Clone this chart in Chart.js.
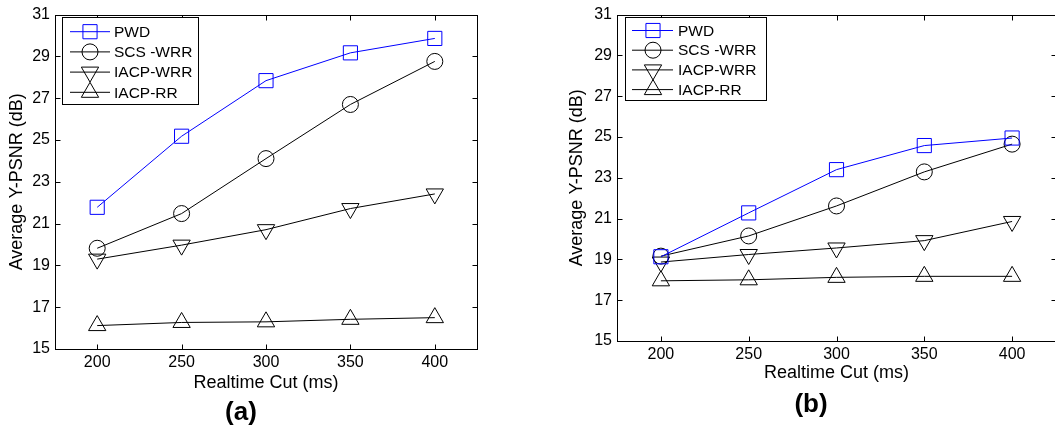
<!DOCTYPE html>
<html>
<head>
<meta charset="utf-8">
<script src="https://cdn.jsdelivr.net/npm/chart.js"></script>
<style>
  html, body { margin: 0; padding: 0; background: #fff; overflow: hidden; }
  body { width: 1055px; height: 431px; position: relative; }
  canvas { position: absolute; top: 0; }
</style>
</head>
<body>
<canvas id="chartA" width="527" height="431" style="left:0px"></canvas>
<canvas id="chartB" width="545" height="431" style="left:527px"></canvas>
<script>
// x categories (realtime cut, ms) and tick labels
const cuts = [200, 250, 300, 350, 400];
const yTicks = [15, 17, 19, 21, 23, 25, 27, 29, 31];
const seriesNames = ['PWD', 'SCS -WRR', 'IACP-WRR', 'IACP-RR'];

// (a)
const pwdA     = [21.78, 25.18, 27.84, 29.17, 29.86];
const scsA     = [19.82, 21.48, 24.11, 26.70, 28.76];
const iacpWrrA = [19.30, 19.97, 20.71, 21.72, 22.42];
const iacpRrA  = [16.12, 16.27, 16.30, 16.42, 16.50];

// (b)
const pwdB     = [19.13, 21.28, 23.40, 24.58, 24.95];
const scsB     = [19.16, 20.15, 21.62, 23.29, 24.65];
const iacpWrrB = [18.87, 19.24, 19.56, 19.92, 20.86];
const iacpRrB  = [17.95, 18.00, 18.12, 18.17, 18.17];

const FONT = '"Liberation Sans", Arial, Helvetica, sans-serif';

// marker look per series
const styles = [
  { color: 'rgb(0,0,255)', pointStyle: 'rect', radius: 10, rotation: 0 },
  { color: '#000', pointStyle: 'circle', radius: 8, rotation: 0 },
  { color: '#000', pointStyle: 'triangle', radius: 10, rotation: 180 },
  { color: '#000', pointStyle: 'triangle', radius: 10, rotation: 0 }
];

function makeDatasets(list) {
  return list.map((vals, i) => ({
    label: seriesNames[i],
    data: cuts.map((c, j) => ({ x: c, y: vals[j] })),
    borderColor: styles[i].color,
    borderWidth: 1,
    pointStyle: styles[i].pointStyle,
    pointRadius: styles[i].radius,
    pointRotation: styles[i].rotation,
    pointBorderColor: styles[i].color,
    pointBackgroundColor: 'rgba(0,0,0,0)',
    pointBorderWidth: 1,
    tension: 0
  }));
}

// frame, inward ticks, legend box and panel label
const framePlugin = {
  id: 'frame',
  afterDraw(chart, args, opts) {
    const ctx = chart.ctx;
    const a = chart.chartArea;
    const xs = chart.scales.x, ys = chart.scales.y;
    ctx.save();
    ctx.strokeStyle = '#000';
    ctx.lineWidth = 1;
    const L = Math.round(a.left) + 0.5, R = Math.round(a.right) + 0.5;
    const T = Math.round(a.top) + 0.5, B = Math.round(a.bottom) + 0.5;
    ctx.strokeRect(L, T, R - L, B - T);
    const tl = 5;
    ctx.beginPath();
    xs.ticks.forEach(t => {
      const px = Math.round(xs.getPixelForValue(t.value)) + 0.5;
      ctx.moveTo(px, B); ctx.lineTo(px, B - tl);
      ctx.moveTo(px, T); ctx.lineTo(px, T + tl);
    });
    ys.ticks.forEach(t => {
      const py = Math.round(ys.getPixelForValue(t.value)) + 0.5;
      ctx.moveTo(L, py); ctx.lineTo(L + tl, py);
      ctx.moveTo(R, py); ctx.lineTo(R - tl, py);
    });
    ctx.stroke();

    // legend
    const lg = opts.legend;
    ctx.fillStyle = '#fff';
    ctx.fillRect(lg.x, lg.y, lg.w, lg.h);
    ctx.strokeStyle = '#000';
    ctx.strokeRect(lg.x + 0.5, lg.y + 0.5, lg.w, lg.h);
    ctx.font = '15.5px ' + FONT;
    ctx.textBaseline = 'middle';
    chart.data.datasets.forEach((ds, i) => {
      const y = lg.y + lg.row0 + i * lg.gap;
      ctx.strokeStyle = ds.borderColor;
      ctx.lineWidth = 1;
      ctx.beginPath();
      ctx.moveTo(lg.x + lg.line0, y);
      ctx.lineTo(lg.x + lg.line1, y);
      ctx.stroke();
      ctx.fillStyle = 'rgba(0,0,0,0)';
      ctx.strokeStyle = ds.pointBorderColor;
      Chart.helpers.drawPoint(ctx, {
        pointStyle: ds.pointStyle, rotation: ds.pointRotation,
        radius: ds.pointRadius, borderWidth: 1
      }, lg.x + lg.mark, y);
      ctx.fillStyle = '#000';
      ctx.textAlign = 'left';
      ctx.fillText(ds.label, lg.x + lg.text, y + 1);
    });

    // panel label
    ctx.font = 'bold 26px ' + FONT;
    ctx.fillStyle = '#000';
    ctx.textAlign = 'center';
    ctx.fillText(opts.panel.text, opts.panel.x, opts.panel.y);
    ctx.restore();
  }
};

function makeChart(id, list, cfg) {
  return new Chart(document.getElementById(id), {
    type: 'line',
    data: { datasets: makeDatasets(list) },
    options: {
      responsive: false,
      animation: false,
      devicePixelRatio: 1,
      layout: { padding: cfg.padding },
      plugins: {
        legend: { display: false },
        tooltip: { enabled: false },
        frame: { legend: cfg.legend, panel: cfg.panel }
      },
      scales: {
        x: {
          type: 'linear',
          min: 175, max: 425,
          grid: { display: false, drawTicks: false },
          border: { display: false },
          afterBuildTicks: s => { s.ticks = cuts.map(v => ({ value: v })); },
          afterFit: s => { s.height = cfg.xHeight; },
          ticks: { color: '#000', padding: 4, font: { family: FONT, size: 16 } },
          title: {
            display: true, text: 'Realtime Cut (ms)', color: '#000',
            padding: { top: 0, bottom: cfg.xTitlePad },
            font: { family: FONT, size: 18 }
          }
        },
        y: {
          min: 15, max: 31,
          grid: { display: false, drawTicks: false },
          border: { display: false },
          afterBuildTicks: s => { s.ticks = yTicks.map(v => ({ value: v })); },
          afterFit: s => { s.width = cfg.yWidth; },
          ticks: { color: '#000', padding: 5, font: { family: FONT, size: 16 } },
          title: {
            display: true, text: 'Average Y-PSNR (dB)', color: '#000',
            padding: { top: cfg.yTitlePad, bottom: 0 },
            font: { family: FONT, size: 18 }
          }
        }
      }
    },
    plugins: [framePlugin]
  });
}

makeChart('chartA', [pwdA, scsA, iacpWrrA, iacpRrA], {
  padding: { left: 0, top: 12, right: 50, bottom: 36 },
  xHeight: 46, yWidth: 55, xTitlePad: 1, yTitlePad: 6,
  legend: { x: 62, y: 17, w: 136, h: 87, row0: 14.7, gap: 20.2, line0: 8, line1: 48, mark: 28, text: 52 },
  panel: { text: '(a)', x: 241, y: 413 }
});

makeChart('chartB', [pwdB, scsB, iacpWrrB, iacpRrB], {
  padding: { left: 0, top: 11, right: 16, bottom: 46 },
  xHeight: 44, yWidth: 90, xTitlePad: 1, yTitlePad: 39,
  legend: { x: 98, y: 17, w: 141, h: 83, row0: 13.5, gap: 19.7, line0: 7, line1: 48, mark: 28, text: 53 },
  panel: { text: '(b)', x: 284, y: 405 }
});
</script>
</body>
</html>
